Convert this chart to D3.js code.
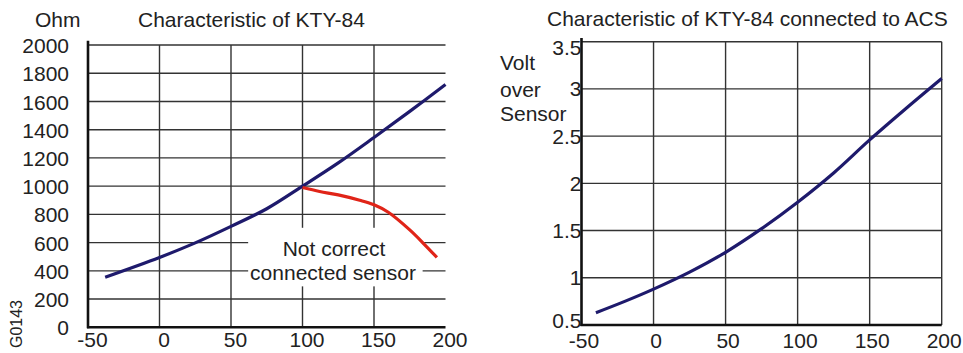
<!DOCTYPE html>
<html>
<head>
<meta charset="utf-8">
<script src="https://cdn.jsdelivr.net/npm/d3@7"></script>
<style>
  body { margin: 0; background: #fff; }
  svg text { font-family: "Liberation Sans", Arial, sans-serif; fill: #222; }
  .grid line { stroke: #333; stroke-width: 1.4; }
  .axis-line { stroke: #111; stroke-width: 2.6; }
</style>
</head>
<body>
<svg id="chart" width="963" height="353"></svg>
<script>
// x ticks shared by both charts (temperature, °C)
const tempTicks = [-50, 0, 50, 100, 150, 200];

// left chart: resistance in Ohm
const ohmTicks = [0, 200, 400, 600, 800, 1000, 1200, 1400, 1600, 1800, 2000];
const ktyTemp = [-38, 0, 25, 50, 75, 100, 125, 150, 175, 200];
const ktyOhm = [355, 495, 598, 715, 840, 1000, 1165, 1345, 1530, 1720];
const wrongTemp = [100, 112, 125, 140, 150, 160, 175, 185, 194];
const wrongOhm = [990, 962, 938, 900, 868, 815, 690, 590, 495];

// right chart: voltage over sensor
const voltTicks = [0.5, 1, 1.5, 2, 2.5, 3, 3.5];
const acsTemp = [-40, -20, 0, 25, 50, 75, 100, 125, 150, 175, 200];
const acsVolt = [0.63, 0.75, 0.88, 1.06, 1.27, 1.52, 1.80, 2.11, 2.46, 2.79, 3.11];

const svg = d3.select("#chart");
const blue = "#1e1a6c";
const red = "#e02418";
const fs = 21;

function zip(a, b) { return a.map((v, i) => [v, b[i]]); }

function styleLabels(sel) {
  sel.selectAll("text")
    .attr("font-size", fs)
    .style("fill", "#222")
    .style("font-family", "'Liberation Sans', Arial, sans-serif");
}

// ---------- left chart ----------
const x1 = d3.scaleLinear().domain([-50, 200]).range([88, 445.5]);
const y1 = d3.scaleLinear().domain([0, 2000]).range([327.3, 45]);

const g1 = svg.append("g");

// gridlines
g1.append("g").attr("class", "grid")
  .selectAll("line.h").data(ohmTicks.filter(d => d > 0)).enter()
  .append("line")
  .attr("x1", x1(-50)).attr("x2", x1(200))
  .attr("y1", d => y1(d)).attr("y2", d => y1(d));
g1.append("g").attr("class", "grid")
  .selectAll("line.v").data(tempTicks.filter(d => d > -50 && d < 200)).enter()
  .append("line")
  .attr("x1", d => x1(d)).attr("x2", d => x1(d))
  .attr("y1", y1(2000)).attr("y2", y1(0));

// white box behind the annotation
g1.append("rect")
  .attr("x", x1(62)).attr("y", y1(705))
  .attr("width", x1(184) - x1(62)).attr("height", y1(290) - y1(705))
  .attr("fill", "#fff");

// axes lines
g1.append("line").attr("class", "axis-line")
  .attr("x1", x1(-50)).attr("x2", x1(-50)).attr("y1", y1(2030)).attr("y2", y1(0) + 1);
g1.append("line").attr("class", "axis-line")
  .attr("x1", x1(-50) - 1).attr("x2", x1(200)).attr("y1", y1(0)).attr("y2", y1(0));

// tick labels
g1.append("g")
  .attr("transform", `translate(${x1(-50) - 19},0)`)
  .call(d3.axisLeft(y1).tickValues(ohmTicks).tickSize(0).tickPadding(0).tickFormat(d => String(d)))
  .call(g => g.select(".domain").remove())
  .call(styleLabels)
  .selectAll("text").attr("dy", "0.36em");
g1.append("g")
  .attr("transform", `translate(4,${y1(0) + 20})`)
  .call(d3.axisBottom(x1).tickValues(tempTicks).tickSize(0).tickPadding(0).tickFormat(d => String(d)))
  .call(g => g.select(".domain").remove())
  .call(styleLabels)
  .selectAll("text").attr("dy", "0");

// curves
const line1 = d3.line().x(d => x1(d[0])).y(d => y1(d[1])).curve(d3.curveCatmullRom.alpha(0.5));
g1.append("path").datum(zip(ktyTemp, ktyOhm))
  .attr("d", line1).attr("fill", "none").attr("stroke", blue).attr("stroke-width", 3.2);
g1.append("path").datum(zip(wrongTemp, wrongOhm))
  .attr("d", line1).attr("fill", "none").attr("stroke", red).attr("stroke-width", 3.2);

// texts
g1.append("text").attr("x", 35).attr("y", 27).attr("font-size", fs).text("Ohm");
g1.append("text").attr("x", 138).attr("y", 27).attr("font-size", fs).text("Characteristic of KTY-84");
g1.append("text").attr("x", 334).attr("y", 256).attr("font-size", fs)
  .attr("text-anchor", "middle").text("Not correct");
g1.append("text").attr("x", 333).attr("y", 280).attr("font-size", fs)
  .attr("text-anchor", "middle").text("connected sensor");
g1.append("text").attr("transform", "translate(22,324) rotate(-90)")
  .attr("font-size", 16).attr("text-anchor", "middle").text("G0143");

// ---------- right chart ----------
const x2 = d3.scaleLinear().domain([-50, 200]).range([581.5, 941.7]);
const y2 = d3.scaleLinear().domain([0.5, 3.5]).range([325, 41.7]);

const g2 = svg.append("g");

g2.append("g").attr("class", "grid")
  .selectAll("line.h").data(voltTicks.filter(d => d > 0.5)).enter()
  .append("line")
  .attr("x1", x2(-50)).attr("x2", x2(200))
  .attr("y1", d => y2(d)).attr("y2", d => y2(d));
g2.append("g").attr("class", "grid")
  .selectAll("line.v").data(tempTicks.filter(d => d > -50)).enter()
  .append("line")
  .attr("x1", d => x2(d)).attr("x2", d => x2(d))
  .attr("y1", y2(3.5)).attr("y2", y2(0.5));

g2.append("line").attr("class", "axis-line")
  .attr("x1", x2(-50)).attr("x2", x2(-50)).attr("y1", y2(3.54)).attr("y2", y2(0.5) + 1);
g2.append("line").attr("class", "axis-line")
  .attr("x1", x2(-50) - 1).attr("x2", x2(200)).attr("y1", y2(0.5)).attr("y2", y2(0.5));

g2.append("g")
  .attr("transform", `translate(${x2(-50)},0)`)
  .call(d3.axisLeft(y2).tickValues(voltTicks).tickSize(0).tickPadding(0).tickFormat(d => String(d)))
  .call(g => g.select(".domain").remove())
  .call(styleLabels)
  .selectAll("text").attr("dy", d => d === 0.5 ? "0.1em" : (d === 3.5 ? "0.6em" : "0.33em"));
g2.append("g")
  .attr("transform", `translate(2,${y2(0.5) + 23})`)
  .call(d3.axisBottom(x2).tickValues(tempTicks).tickSize(0).tickPadding(0).tickFormat(d => String(d)))
  .call(g => g.select(".domain").remove())
  .call(styleLabels)
  .selectAll("text").attr("dy", "0");

const line2 = d3.line().x(d => x2(d[0])).y(d => y2(d[1])).curve(d3.curveCatmullRom.alpha(0.5));
g2.append("path").datum(zip(acsTemp, acsVolt))
  .attr("d", line2).attr("fill", "none").attr("stroke", blue).attr("stroke-width", 3.2);

g2.append("text").attr("x", 547).attr("y", 26).attr("font-size", fs)
  .text("Characteristic of KTY-84 connected to ACS");
g2.append("text").attr("x", 500).attr("y", 70).attr("font-size", fs).text("Volt");
g2.append("text").attr("x", 500).attr("y", 97).attr("font-size", fs).text("over");
g2.append("text").attr("x", 500).attr("y", 121).attr("font-size", fs).text("Sensor");
</script>
</body>
</html>
